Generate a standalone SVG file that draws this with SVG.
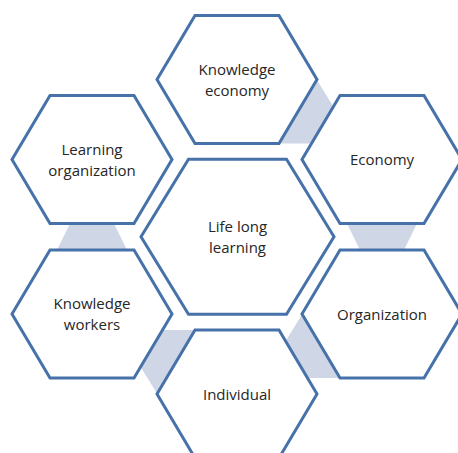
<svg xmlns="http://www.w3.org/2000/svg" xmlns:xlink="http://www.w3.org/1999/xlink" width="458" height="453" viewBox="0 0 458 453">
  <style>
    .hex { fill: #ffffff; stroke: #4672a9; stroke-width: 3; stroke-linejoin: miter; }
    .link { fill: #cfd6e6; stroke: none; }
    .label { font-family: "Open Sans", "Liberation Sans", sans-serif; font-size: 15px; fill: #262626; text-anchor: middle; }
  </style>
  <defs>
    <!-- outer hexagon, centred on the origin -->
    <polygon id="hex" class="hex" points="-80,0 -42,-64 42,-64 80,0 42,64 -42,64"/>
  </defs>

  <!-- connecting bands between neighbouring hexagons -->
  <g id="connectors">
    <polygon class="link" points="317,80 336,111 311,143.5 279,143.5"/>
    <polygon class="link" points="347,223.5 417,223.5 404,250 360,250"/>
    <polygon class="link" points="302,314.5 286,340.5 308,378 340,378"/>
    <polygon class="link" points="157,393.5 141,367.5 163,330 195,330"/>
    <polygon class="link" points="127,250 57,250 70,223.5 114,223.5"/>
  </g>

  <g id="node-center" transform="translate(237.5,236.75)">
    <polygon class="hex" points="-96.5,0 -49,-77.5 49,-77.5 96.5,0 49,77.5 -49,77.5"/>
    <text class="label" x="0" y="-5">Life long</text>
    <text class="label" x="0" y="16">learning</text>
  </g>

  <g id="node-knowledge-economy" transform="translate(237,79.5)">
    <use xlink:href="#hex"/>
    <text class="label" x="0" y="-5">Knowledge</text>
    <text class="label" x="0" y="16">economy</text>
  </g>

  <g id="node-economy" transform="translate(382,159.5)">
    <use xlink:href="#hex"/>
    <text class="label" x="0" y="5.5">Economy</text>
  </g>

  <g id="node-organization" transform="translate(382,314)">
    <use xlink:href="#hex"/>
    <text class="label" x="0" y="5.5">Organization</text>
  </g>

  <g id="node-individual" transform="translate(237,394)">
    <use xlink:href="#hex"/>
    <text class="label" x="0" y="5.5">Individual</text>
  </g>

  <g id="node-knowledge-workers" transform="translate(92,314)">
    <use xlink:href="#hex"/>
    <text class="label" x="0" y="-5">Knowledge</text>
    <text class="label" x="0" y="16">workers</text>
  </g>

  <g id="node-learning-organization" transform="translate(92,159.5)">
    <use xlink:href="#hex"/>
    <text class="label" x="0" y="-5">Learning</text>
    <text class="label" x="0" y="16">organization</text>
  </g>
</svg>
